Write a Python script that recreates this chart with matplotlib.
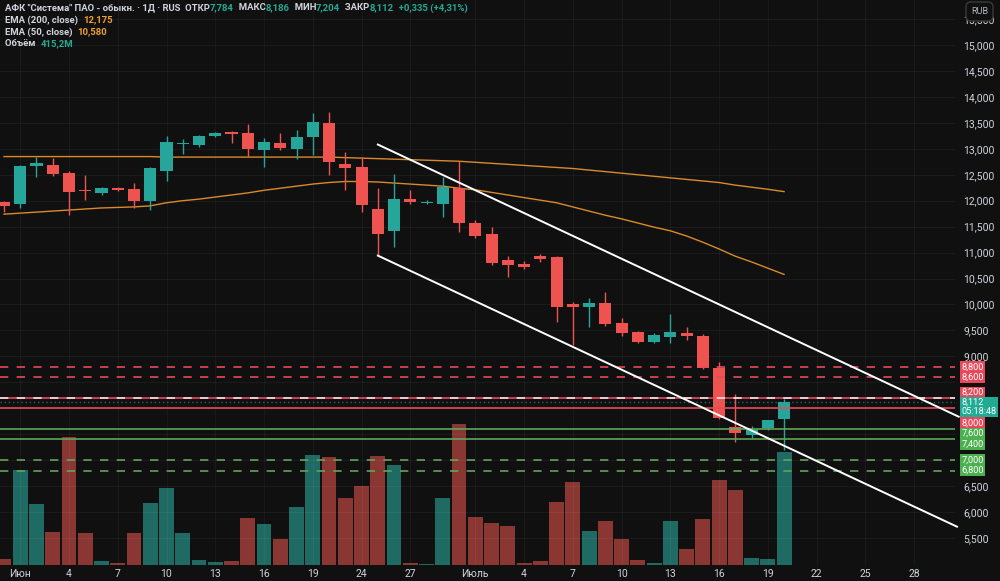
import matplotlib
matplotlib.use("Agg")
import matplotlib.pyplot as plt
import matplotlib.transforms as mtransforms
import numpy as np

# daily candles (prices in rubles), one entry per trading bar
opens = [11.975, 11.94, 12.67, 12.69, 12.53, 12.20, 12.15, 12.25, 12.23, 11.99,
         12.57, 13.09, 13.07, 13.25, 13.32, 13.30, 12.98, 13.11, 13.00, 13.23,
         13.50, 12.71, 12.65, 11.84, 11.42, 12.03, 11.95, 11.94, 12.24, 11.57,
         11.36, 10.86, 10.78, 10.93, 10.92, 10.01, 9.95, 10.03, 9.64, 9.47,
         9.28, 9.37, 9.45, 9.39, 8.78, 7.64, 7.49, 7.62, 7.784]
highs = [11.99, 12.69, 12.84, 12.82, 12.57, 12.50, 12.26, 12.26, 12.34, 12.65,
         13.25, 13.19, 13.27, 13.32, 13.34, 13.48, 13.21, 13.30, 13.36, 13.69,
         13.71, 12.94, 12.84, 12.24, 12.51, 12.21, 12.01, 12.46, 12.76, 11.63,
         11.49, 10.93, 10.84, 10.98, 10.93, 10.05, 10.13, 10.24, 9.74, 9.49,
         9.45, 9.82, 9.57, 9.43, 8.89, 8.28, 7.66, 7.78, 8.186]
lows = [11.78, 11.86, 12.46, 12.48, 11.72, 12.01, 12.11, 12.19, 11.86, 11.82,
        12.38, 12.90, 13.035, 13.23, 13.11, 12.84, 12.65, 12.98, 12.80, 12.88,
        12.50, 12.21, 11.78, 10.95, 11.11, 11.94, 11.94, 11.69, 11.40, 11.28,
        10.76, 10.53, 10.68, 10.82, 9.66, 9.22, 9.57, 9.59, 9.39, 9.26,
        9.26, 9.26, 9.32, 8.76, 7.79, 7.35, 7.43, 7.58, 7.204]
closes = [11.90, 12.67, 12.73, 12.51, 12.17, 12.19, 12.24, 12.21, 11.99, 12.63,
          13.13, 13.10, 13.25, 13.30, 13.29, 13.00, 13.13, 13.02, 13.23, 13.52,
          12.75, 12.63, 11.92, 11.36, 12.03, 11.975, 11.97, 12.26, 11.57, 11.32,
          10.80, 10.76, 10.72, 10.88, 9.95, 9.95, 10.03, 9.62, 9.45, 9.28,
          9.41, 9.47, 9.39, 8.78, 7.81, 7.52, 7.58, 7.777, 8.112]
volumes_m = [22, 349, 224, 121, 470, 118, 15, 7, 118, 228,
             283, 118, 18, 11, 15, 173, 151, 96, 213, 404,
             397, 246, 290, 401, 368, 7, 4, 246, 518, 176,
             154, 143, 7, 15, 232, 305, 125, 162, 96, 18,
             7, 162, 59, 169, 312, 276, 26, 22, 415.2]
ema200 = [12.85, 12.85, 12.85, 12.85, 12.85, 12.85, 12.85, 12.85, 12.85, 12.85,
          12.84, 12.84, 12.84, 12.84, 12.84, 12.84, 12.84, 12.84, 12.84, 12.84,
          12.84, 12.83, 12.82, 12.81, 12.80, 12.79, 12.78, 12.77, 12.76, 12.74,
          12.72, 12.70, 12.68, 12.66, 12.64, 12.62, 12.59, 12.56, 12.53, 12.50,
          12.47, 12.44, 12.41, 12.38, 12.35, 12.30, 12.26, 12.22, 12.175]
ema50 = [11.74, 11.76, 11.78, 11.80, 11.82, 11.84, 11.86, 11.87, 11.88, 11.90,
         11.96, 12.00, 12.03, 12.07, 12.11, 12.15, 12.20, 12.24, 12.28, 12.32,
         12.35, 12.37, 12.37, 12.36, 12.34, 12.32, 12.30, 12.28, 12.24, 12.21,
         12.16, 12.11, 12.06, 12.01, 11.96, 11.88, 11.80, 11.72, 11.65, 11.57,
         11.49, 11.42, 11.32, 11.20, 11.07, 10.93, 10.82, 10.70, 10.58]

# x axis labels (bar index -> label)
tick_pos = [1, 4, 7, 10, 13, 16, 19, 22, 25, 29, 32, 35, 38, 41, 44, 47, 50, 53, 56]
tick_labels = ["Июн", "4", "7", "10", "13", "16", "19", "24", "27", "Июль",
               "4", "7", "10", "13", "16", "19", "22", "25", "28"]
price_ticks = np.arange(5.5, 16.0, 0.5)
hidden_ticks = [7.0, 7.5, 8.0, 8.5]   # covered by the level labels on the scale

# horizontal levels
red_dashed = [8.8, 8.6]
red_solid = [8.2, 8.0]
green_solid = [7.6, 7.4]
green_dashed = [7.0, 6.8]

# descending channel, (bar, price) end points
channel_upper = [(22.95, 13.09), (58.8, 7.83)]
channel_lower = [(22.95, 10.95), (58.7, 5.71)]

bg = "#101010"
txt_col = "#d1d4dc"
up_col, down_col = "#26a69a", "#ef5350"
vol_up, vol_down = "#1f6b63", "#8a3734"
ema_col = "#d98a2a"
lvl_red, lvl_green = "#e8495a", "#5fa55a"
fam = ["Roboto", "DejaVu Sans"]
fam_narrow = ["Liberation Sans Narrow", "Roboto", "DejaVu Sans"]

fig = plt.figure(figsize=(10, 5.81), dpi=100, facecolor=bg)
rect = [0, 16 / 581, 0.955, 565 / 581]

# volume pane sits behind the price pane
ax_vol = fig.add_axes(rect, zorder=0)
ax_vol.set_facecolor(bg)
ax = fig.add_axes(rect, zorder=1)
ax.patch.set_visible(False)

x = np.arange(len(closes))
is_up = np.array(closes) >= np.array(opens)

ax_vol.bar(x, volumes_m, width=0.92, color=np.where(is_up, vol_up, vol_down))
ax_vol.set_ylim(0, 415.2 * 565 / 113)
ax_vol.set_xlim(-0.246, 58.52)
ax_vol.axis("off")

# grid
ax.set_xticks(tick_pos)
ax.set_xticklabels(tick_labels)
ax.set_yticks(price_ticks)
ax.set_yticklabels(["" if any(abs(v - h) < 1e-6 for h in hidden_ticks)
                    else f"{v:,.3f}".replace(".", ",") for v in price_ticks])
ax.grid(color="white", alpha=0.045, lw=0.8)
ax.set_axisbelow(True)

# emas
ax.plot(x, ema200, color=ema_col, lw=1, zorder=2)
ax.plot(x, ema50, color=ema_col, lw=1, zorder=2)

# candles
for i in range(len(closes)):
    col = up_col if is_up[i] else down_col
    ax.vlines(i, lows[i], highs[i], color=col, lw=1, zorder=3)
    lo = min(opens[i], closes[i])
    h = max(abs(closes[i] - opens[i]), 0.015)
    ax.bar(i, h, bottom=lo, width=0.74, color=col, zorder=4)

# levels
for p in red_dashed:
    ax.axhline(p, color=lvl_red, lw=1.2, ls=(0, (5, 5)), zorder=5)
for p in red_solid:
    ax.axhline(p, color=lvl_red, lw=1.2, zorder=5)
ax.axhline(red_solid[0], color="white", lw=1.2, ls=(0, (5, 5)), alpha=0.85, zorder=5)
for p in green_solid:
    ax.axhline(p, color=lvl_green, lw=1.2, zorder=5)
for p in green_dashed:
    ax.axhline(p, color=lvl_green, lw=1.2, ls=(0, (5, 5)), zorder=5)
ax.axhline(closes[-1], color=up_col, lw=1, ls=(0, (1, 2)), alpha=0.6, zorder=5)

# channel
for seg in (channel_upper, channel_lower):
    ax.plot([seg[0][0], seg[1][0]], [seg[0][1], seg[1][1]], color="white",
            lw=1.4, zorder=6, clip_on=False, solid_capstyle="butt")

ax.set_xlim(-0.246, 58.52)
ax.set_ylim(4.98, 15.867)
ax.yaxis.tick_right()
for s in ax.spines.values():
    s.set_visible(False)
ax.tick_params(axis="y", length=0, pad=6, labelsize=7.5, labelcolor=txt_col)
ax.tick_params(axis="x", length=0, pad=3, labelsize=7.5, labelcolor=txt_col)
for lab in ax.get_xticklabels() + ax.get_yticklabels():
    lab.set_family(fam)

# price label boxes on the scale
trans = mtransforms.blended_transform_factory(fig.transFigure, ax.transData)


def price_box(p, label, color, dy_px=0):
    off = mtransforms.ScaledTranslation(0, dy_px / 100, fig.dpi_scale_trans)
    fig.text(0.9615, p, label, transform=trans + off, color="white", fontsize=6.6,
             family=fam, ha="left", va="center", zorder=10, linespacing=1.05,
             bbox=dict(boxstyle="square,pad=0.14", fc=color, ec="none"))


fmt = lambda v: f"{v:.3f}".replace(".", ",")
price_box(red_dashed[0], fmt(red_dashed[0]), lvl_red)
price_box(red_dashed[1], fmt(red_dashed[1]), lvl_red)
price_box(red_solid[0], fmt(red_solid[0]), lvl_red, dy_px=5.5)
price_box(closes[-1], fmt(closes[-1]) + "\n05:18:48", "#22ab94", dy_px=-4.5)
price_box(red_solid[1], fmt(red_solid[1]), lvl_red, dy_px=-15)
price_box(green_solid[0], fmt(green_solid[0]), "#4caf50", dy_px=-4.5)
price_box(green_solid[1], fmt(green_solid[1]), "#4caf50", dy_px=-4.5)
price_box(green_dashed[0], fmt(green_dashed[0]), "#4caf50")
price_box(green_dashed[1], fmt(green_dashed[1]), "#4caf50")

fig.text(0.9795, 1 - 11.5 / 581, "RUB", color="#b2b5be", fontsize=6.5, family=fam, ha="center", va="center",
         bbox=dict(boxstyle="round,pad=0.55", fc=bg, ec="#3a3a3a"))

# legend lines in the top-left corner
renderer = fig.canvas.get_renderer()
teal_txt, orange_txt = "#22ab94", "#f0a030"
chg = closes[-1] - closes[-2]
pct = chg / closes[-2] * 100


def write_line(parts, y_px):
    xp = 5
    for text, col in parts:
        t = fig.text(xp / 1000, 1 - y_px / 581, text, color=col, fontsize=6.8, family=fam_narrow,
                     ha="left", va="center", fontweight="bold")
        xp += t.get_window_extent(renderer).width


write_line([('АФК "Система" ПАО - обыкн. · 1Д · RUS  ОТКР', txt_col), (fmt(opens[-1]), teal_txt),
            ("  МАКС", txt_col), (fmt(highs[-1]), teal_txt),
            ("  МИН", txt_col), (fmt(lows[-1]), teal_txt),
            ("  ЗАКР", txt_col), (fmt(closes[-1]), teal_txt),
            ("  " + f"+{chg:.3f} (+{pct:.2f}%)".replace(".", ","), teal_txt)], 8)
write_line([("EMA (200, close)  ", txt_col), (fmt(ema200[-1]), orange_txt)], 20)
write_line([("EMA (50, close)  ", txt_col), (fmt(ema50[-1]), orange_txt)], 32)
write_line([("Объём  ", txt_col), (f"{volumes_m[-1]:.1f}M".replace(".", ","), teal_txt)], 44)

fig.savefig("out.png", dpi=100, facecolor=bg)
